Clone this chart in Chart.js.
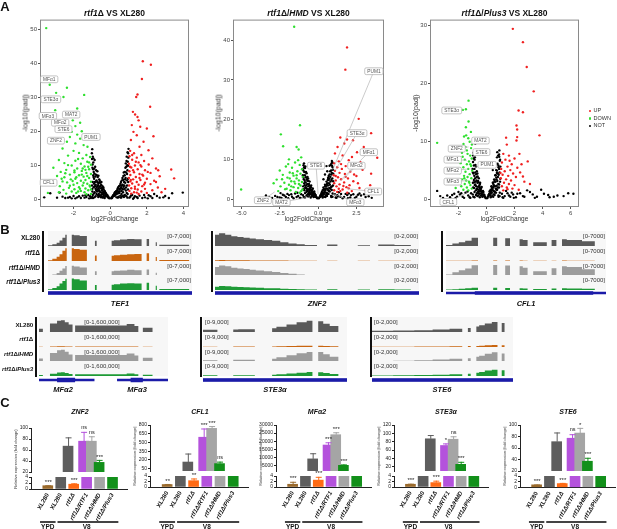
<!DOCTYPE html>
<html><head><meta charset="utf-8">
<script src="https://cdn.jsdelivr.net/npm/chart.js@4.4.1/dist/chart.umd.min.js"></script>
<style>
body{margin:0;background:#fff;}
#root{position:relative;width:617px;height:529px;overflow:hidden;font-family:"Liberation Sans",Arial,sans-serif;color:#111;}
#root canvas{position:absolute;}
.t{position:absolute;white-space:nowrap;line-height:1;}
.bar{position:absolute;background:#111;}
</style></head><body><div id="root"></div>
<script>
// ---------------- Panel A data (log2FoldChange, -log10(padj)) ----------------
const xTicksA1=[-2,0,2,4], yTicksA1=[0,10,20,30,40,50];
const xTicksA2=[-5,-2.5,0,2.5], yTicksA2=[0,10,20,30,40];
const xTicksA3=[-2,0,2,4,6], yTicksA3=[0,10,20,30];

const downA1=[[-3.49,50.4],[-3.3,33.7],[-2.36,32.8],[-2.95,31.3],[-2.55,30.1],[-1.42,30.7],[-1.8,26.7],[-3.0,26.2],[-2.27,25.2],[-1.78,24.7],[-2.04,23.2],[-1.64,22.5],[-1.9,21.5],[-1.55,20],[-2.1,19.8],[-1.8,19],[-2.2,18.3],[-1.64,17.8],[-2.36,16.9],[-1.9,16.4],[-1.45,15.9],[-2.6,14.9],[-1.24,15.4],
[-2.0,14.2],[-1.7,13.6],[-1.3,13.0],[-2.3,12.8],[-1.1,12.4],[-1.5,12.0],[-2.8,11.5],[-1.9,11.3],[-1.25,11.0],[-2.5,10.6],[-1.6,10.4],[-1.05,10.1],[-2.1,9.9],[-1.4,9.6],[-3.1,9.2],[-1.8,9.0],[-1.15,8.8],[-2.4,8.6],[-1.55,8.3],[-2.7,8.0],[-1.95,7.9],[-1.3,7.7],[-1.05,7.4],[-2.2,7.2],[-1.7,7.0],[-2.9,6.8],[-1.45,6.6],[-2.5,6.4],[-1.15,6.2],[-1.9,6.0],[-2.15,5.8],[-1.35,5.6],[-1.6,5.4],[-2.6,5.2],[-1.05,5.1],[-2.35,4.9],[-1.8,4.7],[-1.25,4.5],[-3.0,4.4],[-2.0,4.2],[-1.5,4.0],[-2.75,3.8],[-1.1,3.7],[-1.7,3.5],[-2.25,3.3],[-1.35,3.1],[-1.95,2.9],[-2.55,2.7],[-1.2,2.6],[-1.6,2.4],[-2.1,2.2],[-1.4,2.0],[-1.85,1.8],[-2.4,1.6],[-1.05,1.5],[-1.3,1.4],[-2.8,2.0],[-3.4,1.8],[-1.5,9.0],[-1.2,9.5],[-2.3,10.0],[-1.75,11.8],[-1.35,8.6],[-2.45,7.6],[-1.85,6.4],[-1.12,4.0],[-1.65,3.0],[-2.05,5.3],[-1.45,4.8],[-2.2,3.9],[-1.25,6.8],[-1.55,7.2],[-1.95,8.4],[-1.05,2.8],[-2.65,6.0],[-1.75,2.2],[-1.15,10.8],[-3.3,5.5]];
const upA1=[[1.78,40.6],[2.22,39.6],[1.73,35.4],[1.49,30.8],[1.42,30.1],[2.18,27.2],[1.24,25.7],[1.36,24.9],[1.49,24.2],[1.55,23.2],[1.18,21.8],[1.64,21.3],[2.0,20.8],[1.27,19.8],[1.45,18.8],[2.36,18.5],[1.13,17.4],[1.82,16.9],[1.6,15.4],[2.09,14.4],[1.09,14.2],[3.33,8.7],[3.49,6.1],[2.62,8.5],
[1.3,13.5],[1.7,13.0],[1.05,12.6],[1.45,12.2],[2.3,12.0],[1.2,11.6],[1.85,11.2],[1.55,10.8],[1.02,10.4],[2.1,10.2],[1.35,9.9],[1.7,9.6],[1.15,9.3],[2.5,9.0],[1.5,8.8],[1.9,8.5],[1.05,8.2],[1.3,7.9],[2.2,7.7],[1.6,7.4],[1.1,7.1],[1.8,6.9],[2.7,6.7],[1.4,6.5],[1.02,6.2],[2.0,6.0],[1.25,5.8],[1.65,5.6],[2.4,5.4],[1.1,5.2],[1.45,5.0],[1.9,4.8],[1.2,4.6],[2.2,4.4],[1.55,4.2],[1.03,4.0],[1.75,3.8],[1.35,3.6],[2.6,3.4],[1.15,3.2],[1.9,3.0],[1.5,2.8],[2.3,2.6],[1.05,2.4],[1.7,2.2],[1.3,2.0],[2.0,1.8],[1.15,1.6],[1.55,1.5],[2.8,2.0],[1.25,8.5],[1.4,11.0],[2.05,8.0],[1.12,5.6],[1.6,6.2],[1.35,3.0],[1.85,4.3],[1.08,9.5],[1.65,10.0],[2.5,5.0],[1.2,13.0],[1.75,7.2],[1.45,1.9],[3.0,3.0]];
const notA1=[[-0.98,14.7],[-0.95,12.5],[-0.92,10.8],[-0.97,9.2],[-0.9,8.0],[-0.85,11.5],[-0.82,9.5],[-0.78,7.2],[-0.88,6.0],[-0.95,5.0],[-0.75,5.5],[-0.7,8.2],[-0.68,6.5],[-0.65,4.5],[-0.6,5.8],[-0.58,3.6],[-0.55,4.8],[-0.5,3.2],[-0.48,5.0],[-0.45,2.6],[-0.42,3.8],[-0.4,2.0],[-0.36,2.9],[-0.33,1.6],[-0.3,2.4],[-0.27,1.2],[-0.24,1.8],[-0.2,0.9],[-0.16,1.2],[-0.12,0.5],[-0.08,0.4],[-0.05,0.2],[-0.9,3.5],[-0.8,3.0],[-0.85,2.0],[-0.72,2.2],[-0.62,1.5],[-0.55,1.1],[-0.95,1.2],[-0.8,0.8],[-0.65,0.6],[-0.5,0.5],[-0.4,0.4],[-0.3,0.3],[-0.98,0.6],[-0.7,3.8],[-0.88,4.5],[-0.75,1.5],[-0.6,2.6],[-0.45,1.4],[-0.35,1.0],[-0.92,7.0],[-0.83,5.0],[-0.97,3.0],
[-1.1,0.8],[-1.3,0.6],[-1.5,1.0],[-1.8,0.5],[-2.0,0.9],[-2.3,0.4],[-2.6,0.7],[-2.76,1.9],[-3.27,1.7],[-1.2,1.2],[-1.6,0.3],[-2.1,0.2],[-1.4,0.4],[-1.05,0.3],
[0.05,0.2],[0.08,0.5],[0.12,0.6],[0.16,1.1],[0.2,0.9],[0.24,1.7],[0.28,1.3],[0.32,2.3],[0.36,1.8],[0.4,3.0],[0.44,2.2],[0.48,3.8],[0.52,2.8],[0.56,4.5],[0.6,3.5],[0.64,5.5],[0.68,4.2],[0.72,6.8],[0.76,5.0],[0.8,8.0],[0.84,6.2],[0.88,9.5],[0.92,7.4],[0.96,11.0],[0.9,12.5],[0.85,10.5],[0.98,13.5],[0.78,3.0],[0.7,2.0],[0.62,1.5],[0.55,1.0],[0.45,0.7],[0.35,0.5],[0.85,2.5],[0.92,4.0],[0.95,1.5],[0.88,0.8],[0.75,0.6],[0.6,0.4],[0.82,4.8],[0.97,6.0],[0.66,3.0],[0.5,1.8],[0.94,8.5],
[1.1,0.7],[1.3,0.4],[1.6,1.0],[1.9,0.5],[2.2,0.8],[2.4,1.5],[2.7,0.4],[3.0,0.9],[3.38,1.7],[3.96,1.9],[1.2,1.2],[1.5,0.3],[2.05,0.2],[1.05,0.4],[2.55,0.9]];
const notA1b=[[-0.99,11.8],[-0.96,10.2],[-0.93,8.8],[-0.91,6.5],[-0.87,9.0],[-0.86,7.5],[-0.84,3.8],[-0.81,6.6],[-0.79,4.2],[-0.77,8.5],[-0.74,3.4],[-0.73,7.0],[-0.71,5.0],[-0.69,2.8],[-0.67,4.0],[-0.64,6.9],[-0.63,3.2],[-0.61,4.9],[-0.59,2.2],[-0.57,5.4],[-0.53,3.9],[-0.52,2.0],[-0.49,4.2],[-0.47,1.9],[-0.44,3.3],[-0.41,2.9],[-0.38,1.5],[-0.37,3.4],[-0.34,2.2],[-0.31,1.9],[-0.28,2.1],[-0.26,0.8],[-0.22,1.5],[-0.18,1.2],[-0.14,0.9],[-0.1,0.7],[-0.97,2.2],[-0.94,0.3],[-0.89,1.6],[-0.86,0.5],[-0.76,2.6],[-0.68,1.1],[-0.58,0.9],[-0.48,0.8],[-0.38,0.7],[-0.92,12.0],[-1.0,13.5],[-0.99,4.0],
[0.99,12.2],[0.97,9.8],[0.93,10.0],[0.91,5.5],[0.89,11.2],[0.87,7.8],[0.86,3.4],[0.83,9.2],[0.81,5.8],[0.79,7.0],[0.77,4.0],[0.74,7.8],[0.73,3.6],[0.71,5.6],[0.69,2.8],[0.67,6.2],[0.63,4.0],[0.61,2.4],[0.59,5.0],[0.57,3.2],[0.53,4.0],[0.51,2.2],[0.49,3.0],[0.46,1.8],[0.43,3.4],[0.41,1.6],[0.38,2.6],[0.34,1.5],[0.31,1.9],[0.27,1.0],[0.26,2.0],[0.22,1.4],[0.18,1.0],[0.14,0.8],[0.1,0.3],[0.97,2.8],[0.94,0.4],[0.9,1.8],[0.8,1.2],[0.72,1.0],[0.65,0.8],[0.55,0.5],[0.42,0.4],[1.0,14.8],[0.95,13.8],[0.98,5.0],
[-1.15,0.2],[-1.35,1.1],[-1.7,0.8],[-1.9,0.2],[-2.2,0.6],[-2.45,0.3],[-2.9,0.4],[-3.6,0.5],[1.15,1.1],[1.35,0.8],[1.45,0.6],[1.75,0.3],[2.1,1.1],[2.3,0.3],[2.9,0.5],[3.2,0.3],[1.25,0.1],[1.85,1.2]];

const downA2=[[-1.56,43.4],[-1.18,18.6],[-2.43,16.3],[-1.4,13.1],[-1.27,12.5],[-2.28,13.3],[-5.02,2.4],
[-1.1,10.5],[-1.9,10.0],[-1.5,9.2],[-1.2,8.6],[-2.1,8.2],[-1.7,7.9],[-1.05,7.5],[-2.5,7.2],[-1.35,7.0],[-1.85,6.7],[-1.15,6.4],[-2.3,6.1],[-1.6,5.9],[-1.0,5.6],[-2.0,5.4],[-1.4,5.2],[-2.7,4.9],[-1.25,4.7],[-1.75,4.5],[-1.05,4.3],[-2.2,4.1],[-1.5,3.9],[-1.9,3.6],[-1.15,3.4],[-2.45,3.2],[-1.6,3.0],[-1.3,2.8],[-2.05,2.6],[-1.02,2.4],[-1.8,2.2],[-2.6,2.0],[-1.45,1.8],[-1.2,1.6],[-2.9,4.0],[-1.65,6.5],[-1.95,8.8],[-1.3,9.8],[-2.35,5.0],[-1.55,4.4],[-1.1,2.0],[-1.75,3.2],[-2.15,2.5],[-1.4,6.0],[-1.85,5.2],[-1.25,3.8]];
const upA2=[[1.89,38.2],[1.78,32.6],[2.65,20.2],[3.46,16.6],[1.45,15.5],[1.89,15.0],[2.28,14.8],[1.71,14.0],[1.27,13.1],[2.98,13.1],[2.54,11.8],[3.86,10.4],[2.21,10.6],[2.76,9.3],[3.46,6.4],
[1.1,11.5],[1.6,11.0],[2.0,9.8],[1.35,9.5],[1.05,9.0],[2.4,8.6],[1.8,8.3],[1.25,8.0],[1.55,7.6],[2.9,7.4],[1.1,7.1],[2.1,6.9],[1.4,6.6],[1.75,6.3],[1.02,6.0],[2.5,5.8],[1.3,5.5],[1.95,5.2],[1.5,5.0],[1.15,4.7],[2.3,4.5],[1.7,4.2],[1.05,4.0],[1.4,3.7],[2.05,3.5],[1.2,3.2],[1.85,3.0],[2.7,2.8],[1.35,2.6],[1.6,2.4],[1.05,2.2],[2.2,2.0],[1.25,1.8],[1.9,1.6],[3.1,2.2],[1.5,8.8],[2.6,4.0],[1.15,5.8],[1.65,3.3],[2.35,6.2],[3.4,3.5],[1.45,2.0],[2.0,2.7],[1.8,5.6]];
const notA2=[[-0.95,8.5],[-0.9,6.8],[-0.85,7.8],[-0.8,5.5],[-0.75,6.5],[-0.7,4.6],[-0.65,5.2],[-0.6,3.8],[-0.55,4.4],[-0.5,3.0],[-0.45,3.4],[-0.4,2.3],[-0.35,2.7],[-0.3,1.7],[-0.25,1.9],[-0.2,1.1],[-0.15,1.0],[-0.1,0.5],[-0.05,0.2],[-0.9,4.0],[-0.8,3.0],[-0.7,2.2],[-0.6,1.6],[-0.5,1.2],[-0.4,0.8],[-0.3,0.5],[-0.95,2.5],[-0.85,1.5],[-0.75,0.9],[-0.65,0.6],[-0.97,5.5],[-0.88,3.5],[-0.55,2.0],[-0.98,1.0],[-1.0,7.5],
[-1.1,1.2],[-1.3,0.8],[-1.5,1.4],[-1.7,0.6],[-1.9,1.0],[-2.1,0.5],[-2.3,1.1],[-2.5,0.4],[-2.8,0.8],[-2.39,0.3],[-3.2,0.5],[-1.2,0.3],[-1.6,0.2],[-2.0,1.3],[-1.4,0.5],
[0.05,0.2],[0.1,0.5],[0.15,0.9],[0.2,1.2],[0.25,1.8],[0.3,2.2],[0.35,2.9],[0.4,2.5],[0.45,3.6],[0.5,3.2],[0.55,4.4],[0.6,4.0],[0.65,5.3],[0.7,4.8],[0.75,6.2],[0.8,5.6],[0.85,7.2],[0.9,6.6],[0.95,8.0],[0.9,9.6],[0.75,8.4],[0.6,7.0],[0.45,6.2],[0.35,5.0],[0.5,1.0],[0.6,1.5],[0.7,2.0],[0.8,2.6],[0.9,3.2],[0.95,1.4],[0.85,0.8],[0.4,0.6],[0.3,0.4],[0.98,4.5],[0.88,9.0],[0.55,8.3],
[1.1,1.2],[1.3,0.7],[1.5,1.3],[1.7,0.5],[1.9,1.0],[2.1,0.4],[2.3,1.2],[2.5,0.6],[2.8,0.9],[3.1,0.5],[3.5,0.3],[1.2,0.3],[1.6,0.2],[2.0,1.4],[2.7,1.4]];
const notA2b=[[-0.99,6.0],[-0.96,7.2],[-0.93,5.0],[-0.91,8.0],[-0.87,4.6],[-0.86,6.0],[-0.84,2.8],[-0.81,4.2],[-0.79,6.8],[-0.77,3.5],[-0.74,5.0],[-0.73,2.6],[-0.71,3.8],[-0.69,5.6],[-0.67,2.0],[-0.64,3.2],[-0.63,4.6],[-0.61,2.5],[-0.59,1.2],[-0.57,3.4],[-0.53,2.6],[-0.52,1.5],[-0.49,2.2],[-0.47,3.0],[-0.44,1.6],[-0.41,1.9],[-0.38,1.2],[-0.37,2.4],[-0.34,1.5],[-0.31,0.9],[-0.28,1.3],[-0.26,0.6],[-0.22,1.4],[-0.18,0.8],[-0.14,0.5],[-0.97,3.2],[-0.94,0.5],[-0.89,2.2],[-0.86,0.4],[-0.76,1.8],[-0.68,1.2],[-0.58,0.7],[-0.48,0.4],[-0.92,9.0],[-0.83,8.2],
[0.99,6.4],[0.97,7.4],[0.93,5.2],[0.91,8.4],[0.87,4.8],[0.86,6.2],[0.84,3.0],[0.81,4.4],[0.79,7.0],[0.77,3.6],[0.74,5.2],[0.73,2.8],[0.71,4.0],[0.69,5.8],[0.67,2.2],[0.64,3.4],[0.63,4.8],[0.61,2.6],[0.59,1.3],[0.57,3.6],[0.53,2.7],[0.52,1.6],[0.49,2.3],[0.47,3.2],[0.44,1.7],[0.41,2.0],[0.38,1.3],[0.37,2.5],[0.34,1.6],[0.31,1.0],[0.28,1.4],[0.26,0.7],[0.22,1.5],[0.18,0.9],[0.14,0.6],[0.97,3.4],[0.94,0.6],[0.89,2.3],[0.86,0.5],[0.76,1.9],[0.68,1.3],[0.58,0.8],[0.48,0.5],[0.93,9.3],[0.83,8.6],
[-1.15,0.3],[-1.35,1.6],[-1.75,1.2],[-1.95,0.2],[-2.2,0.9],[-2.45,1.5],[-2.65,0.5],[-3.0,0.3],[-3.4,0.9],[1.15,0.4],[1.35,1.7],[1.45,0.6],[1.8,1.3],[2.15,1.0],[2.4,0.3],[2.6,1.1],[3.0,1.2],[3.3,0.7],[1.25,1.0],[1.95,0.2]];

const downA3=[[-1.28,17.0],[-1.69,15.4],[-1.47,15.5],[-1.28,13.4],[-1.47,12.4],[-1.11,11.6],[-3.52,9.7],[-1.64,9.5],[-1.04,9.4],[-1.4,8.4],[-1.16,7.5],
[-1.3,10.5],[-1.6,10.8],[-1.2,9.9],[-1.5,9.0],[-1.1,8.8],[-1.75,8.0],[-1.35,7.8],[-1.05,7.0],[-1.55,6.8],[-1.25,6.5],[-1.85,6.2],[-1.4,6.0],[-1.1,5.7],[-1.65,5.5],[-1.3,5.2],[-1.02,4.9],[-1.5,4.7],[-1.9,4.5],[-1.2,4.3],[-1.6,4.0],[-1.35,3.8],[-1.08,3.6],[-1.75,3.4],[-1.45,3.2],[-1.25,3.0],[-2.0,2.8],[-1.55,2.6],[-1.15,2.4],[-1.8,2.2],[-1.4,2.0],[-1.05,1.8],[-1.65,1.6],[-2.2,1.9],[-1.3,1.5],[-1.45,11.0],[-1.7,7.3],[-1.15,6.0],[-1.58,3.6],[-1.22,2.8]];
const upA3=[[1.88,29.4],[2.6,27.1],[2.87,22.8],[3.37,18.6],[2.29,15.3],[2.6,15.0],[3.78,11.0],[1.4,10.6],[2.19,10.7],[2.14,10.1],[1.45,9.4],[2.14,12.7],[2.19,12.0],[2.94,6.5],
[1.2,7.8],[1.6,7.5],[2.0,7.0],[1.35,6.8],[2.5,6.0],[1.1,6.3],[1.8,6.0],[1.5,5.6],[2.2,5.4],[1.05,5.2],[1.7,5.0],[1.3,4.8],[2.4,4.6],[1.9,4.4],[1.15,4.2],[1.55,4.0],[2.1,3.8],[1.02,3.6],[1.4,3.4],[1.75,3.2],[2.7,3.0],[1.25,2.8],[1.6,2.6],[2.0,2.4],[1.1,2.2],[1.45,2.0],[1.85,1.8],[2.3,1.6],[1.2,1.5],[3.1,2.6],[1.65,6.6],[2.35,7.8],[1.0,4.5],[2.6,3.9],[1.5,1.7]];
const notA3=[[-0.95,7.5],[-0.9,5.8],[-0.85,6.8],[-0.8,4.6],[-0.75,5.6],[-0.7,3.8],[-0.65,4.4],[-0.6,3.1],[-0.55,3.6],[-0.5,2.4],[-0.45,2.8],[-0.4,1.8],[-0.35,2.1],[-0.3,1.3],[-0.25,1.4],[-0.2,0.8],[-0.15,0.7],[-0.1,0.4],[-0.05,0.15],[-0.9,3.3],[-0.8,2.5],[-0.7,1.8],[-0.6,1.3],[-0.5,0.9],[-0.4,0.6],[-0.3,0.4],[-0.95,2.0],[-0.85,1.2],[-0.75,0.7],[-0.65,0.5],[-0.97,4.6],[-0.88,2.9],[-0.55,1.6],[-0.98,0.8],[-0.8,9.6],
[-1.1,1.0],[-1.3,0.6],[-1.5,1.1],[-1.7,0.4],[-1.9,0.8],[-2.1,0.4],[-2.3,0.9],[-2.6,0.3],[-3.52,1.4],[-1.2,0.3],[-1.6,0.2],[-2.0,1.2],[-2.8,0.6],[-3.1,0.2],
[0.05,0.15],[0.1,0.4],[0.15,0.7],[0.2,0.9],[0.25,1.4],[0.3,1.6],[0.35,2.2],[0.4,1.9],[0.45,2.8],[0.5,2.5],[0.55,3.4],[0.6,3.0],[0.65,4.1],[0.7,3.7],[0.75,4.9],[0.8,4.4],[0.85,5.8],[0.9,5.2],[0.95,6.6],[0.9,7.7],[0.75,7.2],[0.6,6.0],[0.45,5.0],[0.5,0.8],[0.6,1.2],[0.7,1.6],[0.8,2.0],[0.9,2.5],[0.95,1.1],[0.85,0.6],[0.4,0.5],[0.3,0.3],[0.98,3.5],[0.77,8.1],
[1.1,0.9],[1.3,0.5],[1.5,1.0],[1.7,0.4],[1.9,0.8],[2.1,0.3],[2.4,1.0],[2.6,0.5],[2.9,1.5],[3.3,0.8],[3.9,1.6],[4.1,0.9],[5.06,0.6],[5.83,1.0],[6.2,0.9],[3.6,0.4],[4.5,0.3],[1.2,0.2]];
const notA3b=[[-0.99,5.2],[-0.96,6.4],[-0.93,4.4],[-0.91,7.0],[-0.87,4.0],[-0.86,5.2],[-0.84,2.4],[-0.81,3.6],[-0.79,5.9],[-0.77,3.0],[-0.74,4.3],[-0.73,2.2],[-0.71,3.2],[-0.69,4.8],[-0.67,1.7],[-0.64,2.8],[-0.63,3.9],[-0.61,2.1],[-0.59,1.0],[-0.57,2.9],[-0.53,2.2],[-0.52,1.3],[-0.49,1.9],[-0.47,2.6],[-0.44,1.4],[-0.41,1.6],[-0.38,1.0],[-0.37,2.0],[-0.34,1.3],[-0.31,0.8],[-0.28,1.1],[-0.26,0.5],[-0.22,1.2],[-0.18,0.7],[-0.14,0.4],[-0.97,2.8],[-0.94,0.4],[-0.89,1.9],[-0.86,0.3],[-0.76,1.5],[-0.68,1.0],[-0.58,0.6],[-0.48,0.3],[-0.92,8.0],[-0.83,7.2],
[0.99,5.6],[0.97,6.8],[0.93,4.6],[0.91,7.3],[0.87,4.2],[0.86,5.5],[0.84,2.6],[0.81,3.8],[0.79,6.1],[0.77,3.1],[0.74,4.5],[0.73,2.3],[0.71,3.4],[0.69,5.0],[0.67,1.8],[0.64,3.0],[0.63,4.1],[0.61,2.2],[0.59,1.1],[0.57,3.1],[0.53,2.3],[0.52,1.4],[0.49,2.0],[0.47,2.8],[0.44,1.5],[0.41,1.7],[0.38,1.1],[0.37,2.1],[0.34,1.4],[0.31,0.9],[0.28,1.2],[0.26,0.6],[0.22,1.3],[0.18,0.8],[0.14,0.5],[0.97,3.0],[0.94,0.5],[0.89,2.0],[0.86,0.4],[0.76,1.6],[0.68,1.1],[0.58,0.7],[0.48,0.4],[0.92,8.4],[0.83,7.5],
[-1.15,0.2],[-1.35,1.3],[-1.8,1.0],[-2.2,0.2],[-2.45,0.7],[-3.3,0.5],[1.15,0.3],[1.4,1.4],[1.6,0.6],[1.8,1.1],[2.2,0.9],[2.7,0.4],[3.1,1.2],[3.45,0.2],[4.4,0.7],[4.8,0.4],[5.5,0.5],[1.95,0.2]];

const tagsA1=[{t:'MFα1',x:-3.33,y:35.3},{t:'STE3α',x:-3.24,y:29.4},{t:'MFα3',x:-3.4,y:24.5},{t:'MAT2',x:-2.13,y:24.9},{t:'MFα2',x:-2.73,y:22.5},{t:'STE6',x:-2.55,y:20.6},{t:'ZNF2',x:-2.96,y:17.2},{t:'PUM1',x:-1.05,y:18.3},{t:'CFL1',x:-3.36,y:4.8}];
const tagsA2=[{t:'PUM1',x:3.64,y:32.2,tx:0.96,ty:7.4},{t:'STE3α',x:2.54,y:16.6,tx:1.12,ty:7.2},{t:'MFα1',x:3.31,y:11.8,tx:1.45,ty:4.7},{t:'MFα2',x:2.5,y:8.4,tx:1.67,ty:5.1},{t:'STE6',x:-0.13,y:8.4,tx:0.0,ty:1.3},{t:'CFL1',x:3.6,y:1.9,tx:1.89,ty:2.6},{t:'MFα3',x:2.43,y:-0.8,tx:1.0,ty:1.3},{t:'ZNF2',x:-3.6,y:-0.3,tx:-2.83,ty:1.8},{t:'MAT2',x:-2.39,y:-0.8,tx:-0.53,ty:0.5}];
const tagsA3=[{t:'STE3α',x:-2.48,y:15.3,tx:-1.69,ty:15.4},{t:'MAT2',x:-0.43,y:10.1,tx:-1.04,ty:10},{t:'ZNF2',x:-2.12,y:8.7,tx:-1.28,ty:9.0},{t:'STE6',x:-0.36,y:8.1,tx:-1.04,ty:7.2},{t:'MFα1',x:-2.41,y:6.8,tx:-1.4,ty:6.7},{t:'PUM1',x:0.05,y:5.9,tx:-0.8,ty:5.5},{t:'MFα2',x:-2.41,y:4.9,tx:-1.28,ty:5.2},{t:'MFα3',x:-2.41,y:3.0,tx:-1.28,ty:3.2},{t:'CFL1',x:-2.72,y:-0.5,tx:-1.52,ty:0.9}];

// ---------------- Panel B data (coverage; breakpoints along locus 0-100) ----------------
const tef1Pos=[0,3,6,8,10,12,13,16.5,18,22,27,32.6,33.8,44.2,45.8,50,55,60,65,68.5,70.2,74.8,75.6,77.3,98,99,100];
const tef1XL =[0,300,800,1500,2600,3800,5200,0,5300,5000,4700,0,2400,0,2400,2700,3000,3300,3100,0,3300,0,1700,0,600,0,0];
const tef1Rtf=[0,400,1000,2000,3200,4800,6000,0,6000,5600,5200,0,2600,0,2400,2700,2900,3200,3300,0,3600,0,1900,0,500,0,0];
const tef1HMD=[0,300,700,1400,2400,3500,4700,0,4800,4400,4000,0,2200,0,2200,2400,2600,2900,2700,0,3000,0,1500,0,500,0,0];
const tef1P3 =[0,300,900,1800,3000,4200,5200,0,5400,5000,4400,0,2300,0,2400,2700,3000,3200,3000,0,3400,0,2000,0,500,0,0];
const znf2Pos=[0,2,5,8,11,14,17,20,24,28,32,36,40,44,50,55,60,70,76,80,88,96,100];
const znf2XL =[500,1500,1700,1500,1300,1200,1100,1000,900,800,700,500,350,250,150,0,200,0,100,0,200,150,0];
const znf2Rtf=[0,100,120,110,100,90,90,80,80,70,60,60,50,40,30,0,40,0,20,0,40,30,0];
const znf2HMD=[400,1200,1400,1300,1100,1000,950,850,750,650,550,400,300,200,120,0,150,0,80,0,150,120,0];
const znf2P3 =[100,450,550,500,450,400,380,330,300,250,220,180,150,100,80,0,100,0,60,0,100,80,0];
const cfl1Pos=[0,4,8,12,16,20,29.5,32,37,40,46,48,51,54.5,63,66,69,72.5,75.5,85,93,100];
const cfl1XL =[100,500,1200,1800,2400,3800,0,3800,0,3600,0,3200,2800,0,1700,0,2800,0,3100,2800,2200,0];
const cfl1Rtf=[0,80,100,120,150,200,0,200,0,200,0,180,160,0,120,0,150,0,180,160,120,0];
const cfl1HMD=[150,700,1700,2700,3500,5000,0,5100,0,4900,0,4500,3800,0,2200,0,3600,0,4500,4200,3200,0];
const cfl1P3 =[50,200,400,600,800,1000,0,1000,0,950,0,850,750,0,500,0,700,0,800,750,600,0];
const mfaPos=[0,3,8.5,14,17,20,23,26,28,68,71,74,77,80.5,88,92,100];
const mfaXL =[0,350000,0,900000,1200000,1250000,1050000,800000,0,700000,850000,850000,650000,0,450000,0,0];
const mfaRtf=[0,20000,0,60000,70000,70000,60000,50000,0,50000,60000,60000,50000,0,20000,0,0];
const mfaHMD=[0,380000,0,950000,1250000,1300000,1100000,800000,0,750000,900000,900000,700000,0,450000,0,0];
const mfaP3 =[0,100000,0,250000,380000,400000,330000,220000,0,200000,280000,280000,200000,0,130000,0,0];
const ste3Pos=[0,10,21,24.5,36,48,51,58,65,72,76,80,83.5,88,94,100];
const ste3XL =[1000,1300,0,1500,1600,0,2200,3200,4500,5800,6800,0,6500,5000,3600,0];
const ste3Rtf=[150,200,0,250,250,0,350,450,600,700,800,0,700,600,400,0];
const ste3HMD=[800,1100,0,1300,1400,0,2000,2900,4000,5200,6000,0,6000,4600,3200,0];
const ste3P3 =[300,400,0,500,500,0,800,1100,1500,2000,2400,0,2300,1800,1200,0];
const ste6Pos=[0,15,30,43,55,64,68,70,74,76,80,85,89,92,94,100];
const ste6XL =[150,180,200,250,350,450,0,550,0,750,900,1150,1350,0,1200,0];
const ste6Rtf=[30,40,50,60,80,100,0,120,0,150,180,230,270,0,240,0];
const ste6HMD=[120,150,180,220,320,420,0,500,0,700,850,1100,1300,0,1150,0];
const ste6P3 =[60,80,100,130,180,250,0,300,0,450,550,750,850,0,780,0];
const tef1Thin=[[0,100]], tef1Thick=[[0,100]];
const znf2Thin=[[0,100]], znf2Thick=[[0,100]];
const cfl1Thin=[[0,100]], cfl1Thick=[[18,92]];
const mfaThin=[[0,43],[60.5,100]], mfaThick=[[14,28],[71,80.5]];
const ste3Thin=[[0,100]], ste3Thick=[[0,100]];
const ste6Thin=[[0,100]], ste6Thick=[[0,100]];
const trackNames=['XL280','<i>rtf1</i>Δ','<i>rtf1</i>Δ/<i>HMD</i>','<i>rtf1</i>Δ/<i>Plus3</i>'];

// ---------------- Panel C data (relative expression, fold change) ----------------
const qLabels=['XL280','XL280','rtf1Δ','rtf1Δ/RTF1','rtf1Δ/HMD','rtf1Δ/Plus3'];
const lowTicks=[0,2,4];
const znf2Mean=[1.1,67,1.6,76,76,37.5], znf2Err=[0.15,16,0.3,17,9,4.5], znf2Sig=['***','','***','ns','ns','***'], znf2Ticks=[20,40,60,80,100];
const cfl1Mean=[0.9,164,2.3,590,742,137], cfl1Err=[0.2,146,0.8,150,40,34], cfl1Sig=['**','','**','***','***','ns'], cfl1Ticks=[50,200,350,500,650,800];
const mfa2Mean=[1.0,9000,2.5,17600,24000,5000], mfa2Err=[0.9,3500,1.2,1700,1500,600], mfa2Sig=['***','','***','***','***','***'], mfa2Ticks=[5000,10000,15000,20000,25000,30000];
const ste3Mean=[1.0,87,1.6,71,86,26], ste3Err=[0.2,9,0.7,5,7,6], ste3Sig=['***','','***','*','ns','***'], ste3Ticks=[20,40,60,80,100,120];
const ste6Mean=[0.9,71,1.4,77,86,37], ste6Err=[0.15,16,0.2,7,9,6], ste6Sig=['***','','***','ns','*','***'], ste6Ticks=[20,40,60,80,100];

// ---------------- drawing ----------------
const FONT='"Liberation Sans", Arial, Helvetica, sans-serif';
Chart.defaults.font.family=FONT;
const root=document.getElementById('root');
const base={responsive:false,animation:false,devicePixelRatio:1,events:[],plugins:{legend:{display:false},tooltip:{enabled:false}}};
function canvasAt(l,t,w,h,bg){const c=document.createElement('canvas');c.width=Math.round(w);c.height=Math.round(h);c.style.left=l+'px';c.style.top=t+'px';c.style.width=Math.round(w)+'px';c.style.height=Math.round(h)+'px';if(bg)c.style.background=bg;root.appendChild(c);return c;}
function txt(html,x,y,o={}){const d=document.createElement('div');d.className='t';d.innerHTML=html;d.style.left=x+'px';d.style.top=y+'px';d.style.fontSize=(o.size||7)+'px';if(o.bold)d.style.fontWeight='bold';if(o.italic)d.style.fontStyle='italic';if(o.ls)d.style.letterSpacing=o.ls+'px';d.style.color=o.color||'#111';const ax=o.align==='r'?'-100%':o.align==='l'?'0':'-50%';d.style.transform='translate('+ax+',-50%)'+(o.rot?' rotate('+o.rot+'deg)':'');root.appendChild(d);return d;}
function box(l,t,w,h,c){const d=document.createElement('div');d.className='bar';d.style.left=l+'px';d.style.top=t+'px';d.style.width=w+'px';d.style.height=h+'px';if(c)d.style.background=c;root.appendChild(d);return d;}

// ----- Panel A -----
const framePlugin={id:'frame',beforeDatasetsDraw(ch){const a=ch.chartArea,c=ch.ctx;c.save();c.strokeStyle='#8a8a8a';c.lineWidth=1;c.strokeRect(a.left+0.5,a.top+0.5,a.right-a.left-1,a.bottom-a.top-1);c.restore();}};
function tagPlugin(tags){return{id:'tags',afterDatasetsDraw(ch){const c=ch.ctx,xs=ch.scales.x,ys=ch.scales.y;c.save();
 c.strokeStyle='#b5b5b5';c.lineWidth=0.7;
 tags.forEach(t=>{if(t.tx==null)return;c.beginPath();c.moveTo(xs.getPixelForValue(t.x),ys.getPixelForValue(t.y));c.lineTo(xs.getPixelForValue(t.tx),ys.getPixelForValue(t.ty));c.stroke();});
 c.font='4.8px '+FONT;c.textAlign='center';c.textBaseline='middle';
 tags.forEach(t=>{const px=xs.getPixelForValue(t.x),py=ys.getPixelForValue(t.y);const w=c.measureText(t.t).width+5,h=6.8;
  c.beginPath();c.roundRect(px-w/2,py-h/2,w,h,1.5);c.fillStyle='#fff';c.fill();c.strokeStyle='#aaa';c.lineWidth=0.7;c.stroke();c.fillStyle='#555';c.fillText(t.t,px,py+0.3);});
 c.restore();}};}
const toPts=a=>a.map(p=>({x:p[0],y:p[1]}));
function volcano(o){
 const yW=24,xH=12,padT=4;
 const cl=o.L-yW,ct=o.T-padT,w=o.R-cl+4,h=o.B+xH-ct;
 const cv=canvasAt(cl,ct,w,h);
 const ax=(min,max,ticks,fmt,isX)=>({type:'linear',min,max,
   afterBuildTicks:s=>{s.ticks=ticks.map(v=>({value:v}));},
   afterFit:s=>{if(isX)s.height=xH;else s.width=yW;},
   grid:{display:true,drawOnChartArea:false,drawTicks:true,tickLength:2,tickColor:'#555'},
   border:{display:false},
   ticks:{font:{size:6,family:FONT},color:'#444',padding:1,maxRotation:0,autoSkip:false,callback:v=>fmt(v)}});
 new Chart(cv,{type:'scatter',data:{datasets:[
   {data:toPts(o.up),backgroundColor:'#f02020',pointRadius:1.2,pointBorderWidth:0},
   {data:toPts(o.down),backgroundColor:'#2fe02f',pointRadius:1.2,pointBorderWidth:0},
   {data:toPts(o.not),backgroundColor:'#000',pointRadius:1.2,pointBorderWidth:0}]},
  options:{...base,layout:{padding:{top:padT,right:4,left:0,bottom:0}},
   scales:{x:ax(o.xr[0],o.xr[1],o.xt,o.xf,true),y:ax(o.yr[0],o.yr[1],o.yt,v=>String(v),false)}},
  plugins:[framePlugin,tagPlugin(o.tags)]});
 txt(o.title,(o.L+o.R)/2,13,{size:8.5,bold:true});
 txt('log2FoldChange',(o.L+o.R)/2,218.5,{size:6.5,color:'#333'});
 txt('-log10(padj)',o.L-15,113,{size:7,color:'#333',rot:-90});
}
volcano({L:40,T:19,R:189,B:207,xr:[-3.83,4.3],yr:[-2.35,52.9],xt:xTicksA1,yt:yTicksA1,xf:v=>String(v),up:upA1,down:downA1,not:notA1.concat(notA1b),tags:tagsA1,title:'<i>rtf1</i>Δ VS XL280'});
volcano({L:233,T:19,R:384,B:207,xr:[-5.55,4.3],yr:[-2.0,45.2],xt:xTicksA2,yt:yTicksA2,xf:v=>v.toFixed(1),up:upA2,down:downA2,not:notA2.concat(notA2b),tags:tagsA2,title:'<i>rtf1</i>Δ/<i>HMD</i> VS XL280'});
volcano({L:430,T:19,R:579,B:207,xr:[-4.03,6.6],yr:[-1.38,31.0],xt:xTicksA3,yt:yTicksA3,xf:v=>String(v),up:upA3,down:downA3,not:notA3.concat(notA3b),tags:tagsA3,title:'<i>rtf1</i>Δ/<i>Plus3</i> VS XL280'});
// legend
[['UP','#f02020',111],['DOWN','#2fe02f',118.5],['NOT','#000',126]].forEach(([n,c,y])=>{box(588.5,y-1.2,2.4,2.4,c).style.borderRadius='50%';txt(n,593.5,y,{size:5.5,align:'l',color:'#333'});});

// ----- Panel B -----
const trackColors=['#5a5a5a','#c9650f','#9c9c9c','#1e9a36'];
function track(l,t,w,h,pos,vals,max,color){
 const c=canvasAt(l,t,w,h,'#f7f7f7');
 new Chart(c,{type:'line',data:{datasets:[{data:pos.map((p,i)=>({x:p,y:vals[i]})),stepped:'after',fill:'origin',backgroundColor:color,borderColor:'rgba(0,0,0,0)',borderWidth:0,pointRadius:0}]},
  options:{...base,layout:{padding:0},scales:{x:{type:'linear',display:false,min:0,max:100},y:{display:false,min:0,max:max}}}});
}
function geneModel(l,t,w,h,thin,thick,thickW){
 const seg=a=>a.flatMap(([s,e])=>[{x:s,y:0},{x:e,y:0},{x:e,y:null}]);
 const c=canvasAt(l,t,w,h);
 new Chart(c,{type:'line',data:{datasets:[
  {data:seg(thick),borderColor:'#1b1ba8',borderWidth:thickW,pointRadius:0,spanGaps:false,borderCapStyle:'butt'},
  {data:seg(thin),borderColor:'#1b1ba8',borderWidth:2.4,pointRadius:0,spanGaps:false,borderCapStyle:'butt'}]},
  options:{...base,layout:{padding:0},scales:{x:{type:'linear',display:false,min:0,max:100},y:{display:false,min:-1,max:1}}}});
}
function locus(o){
 const th=14.5;
 o.sets.forEach((v,i)=>{track(o.l,o.bases[i]-th,o.r-o.l,th,o.pos,v,o.max,trackColors[i]);});
 box(o.bar,o.bases[0]-th,2,o.bases[3]-o.bases[0]+th+2);
 o.bases.forEach(b=>{if(o.lab==='r')txt(o.scale,o.r-1,b-th+5,{size:6,align:'r',color:'#333'});else if(o.lab==='l')txt(o.scale,o.l+2,b-th+5,{size:6,align:'l',color:'#333'});else txt(o.scale,o.lab,b-th+5,{size:6,color:'#333'});});
 geneModel(o.l,o.gy-4,o.r-o.l,8,o.thin,o.thick,o.tw);
}
const row1=[245,260,275,289.5], row2=[331.7,346.3,361,375.5];
locus({l:48,r:192,bar:42,bases:row1,pos:tef1Pos,sets:[tef1XL,tef1Rtf,tef1HMD,tef1P3],max:7000,scale:'[0-7,000]',lab:'r',gy:292.7,thin:tef1Thin,thick:tef1Thick,tw:3.6});
locus({l:215,r:419,bar:211,bases:row1,pos:znf2Pos,sets:[znf2XL,znf2Rtf,znf2HMD,znf2P3],max:2000,scale:'[0-2,000]',lab:'r',gy:292.7,thin:znf2Thin,thick:znf2Thick,tw:3.6});
locus({l:446,r:606,bar:441,bases:row1,pos:cfl1Pos,sets:[cfl1XL,cfl1Rtf,cfl1HMD,cfl1P3],max:7000,scale:'[0-7000]',lab:'r',gy:292.7,thin:cfl1Thin,thick:cfl1Thick,tw:3.6});
locus({l:39,r:168,bar:35,bases:row2,pos:mfaPos,sets:[mfaXL,mfaRtf,mfaHMD,mfaP3],max:1600000,scale:'[0-1,600,000]',lab:102,gy:379.5,thin:mfaThin,thick:mfaThick,tw:4.6});
locus({l:203,r:347,bar:200,bases:row2,pos:ste3Pos,sets:[ste3XL,ste3Rtf,ste3HMD,ste3P3],max:9000,scale:'[0-9,000]',lab:'l',gy:379.5,thin:ste3Thin,thick:ste3Thick,tw:3.6});
locus({l:372,r:513,bar:370,bases:row2,pos:ste6Pos,sets:[ste6XL,ste6Rtf,ste6HMD,ste6P3],max:2000,scale:'[0-2,000]',lab:'l',gy:379.5,thin:ste6Thin,thick:ste6Thick,tw:3.6});
row1.forEach((b,i)=>txt(trackNames[i],40,b-7.5,{size:6.6,bold:true,align:'r',ls:-0.1}));
row2.forEach((b,i)=>txt(trackNames[i],33,b-7,{size:6.2,bold:true,align:'r',ls:-0.15}));
[['TEF1',120,303.5],['ZNF2',317,303.5],['CFL1',526,303.5],['MFα2',63,390],['MFα3',137,390],['STE3α',275,390],['STE6',442,390]].forEach(([n,x,y])=>txt(n,x,y,{size:7.5,bold:true,italic:true}));

// ----- Panel C -----
const qColors=['#9a6a2c','#5e5e5e','#ff6a14','#b452dc','#a5a5a5','#12901a'];
function errPlugin(o,part){return{id:'err',afterDatasetsDraw(ch){const c=ch.ctx,xs=ch.scales.x,ys=ch.scales.y;c.save();
 o.mean.forEach((v,i)=>{if(part==='up'&&v<=o.uMin)return;if(part==='low'&&v>4)return;
  const x=xs.getPixelForValue(i),y0=ys.getPixelForValue(v),y1=ys.getPixelForValue(v+o.err[i]);
  c.strokeStyle=qColors[i];c.lineWidth=1;c.beginPath();c.moveTo(x+0.5,y0);c.lineTo(x+0.5,y1);c.moveTo(x-2.5,y1+0.5);c.lineTo(x+3.5,y1+0.5);c.stroke();
  if(o.sig[i]){c.fillStyle='#222';c.font=(o.sig[i]==='ns'?'5.5px ':'6px ')+FONT;c.textAlign='center';c.textBaseline='bottom';c.fillText(o.sig[i],x+0.5,y1-(o.sig[i]==='ns'?1.5:0));}
 });c.restore();}};}
function groupPlugin(){return{id:'grp',afterDraw(ch){const c=ch.ctx,xs=ch.scales.x,H=ch.height;c.save();c.strokeStyle='#444';c.lineWidth=2;
 c.beginPath();c.moveTo(xs.getPixelForValue(-0.6),H-7);c.lineTo(xs.getPixelForValue(0.6),H-7);c.moveTo(xs.getPixelForValue(0.75),H-7);c.lineTo(xs.getPixelForValue(5.45),H-7);c.stroke();
 c.fillStyle='#111';c.font='bold 6.5px '+FONT;c.textAlign='center';c.textBaseline='middle';c.fillText('YPD',xs.getPixelForValue(0),H-2);c.fillText('V8',xs.getPixelForValue(3),H-2);c.restore();}};}
function qpcr(o){
 const xmin=-0.68,xmax=5.5,yW=20,areaW=(xmax-xmin)*o.s,cl=o.ax-yW,cw=yW+areaW+6,bw=Math.round(o.s*0.66);
 const ds=()=>[{data:o.mean.map((v,i)=>({x:i,y:v})),backgroundColor:qColors,barThickness:bw}];
 const yAxis=(min,max,ticks)=>({min,max,afterBuildTicks:s=>{s.ticks=ticks.map(v=>({value:v}));},afterFit:s=>{s.width=yW;},
  grid:{display:true,drawOnChartArea:false,drawTicks:true,tickLength:2,tickColor:'#222'},border:{display:true,color:'#222',width:1},
  ticks:{font:{size:5,family:FONT},color:'#222',padding:1,autoSkip:false,callback:v=>String(v)}});
 const ut=o.uT-18;
 new Chart(canvasAt(cl,ut,cw,o.uB-ut+4),{type:'bar',data:{datasets:ds()},options:{...base,layout:{padding:{top:18,bottom:4,left:0,right:6}},
  scales:{x:{type:'linear',min:xmin,max:xmax,display:false},y:yAxis(o.uMin,o.uMax,o.uTicks)}},plugins:[errPlugin(o,'up')]});
 const lt=o.lT-5;
 new Chart(canvasAt(cl,lt,cw,529-lt),{type:'bar',data:{datasets:ds()},options:{...base,layout:{padding:{top:5,bottom:0,left:0,right:6}},
  scales:{x:{type:'linear',min:xmin,max:xmax,afterBuildTicks:s=>{s.ticks=[0,1,2,3,4,5].map(v=>({value:v}));},afterFit:s=>{s.height=529-o.lB;},
    grid:{display:true,drawOnChartArea:false,drawTicks:false},border:{display:true,color:'#222',width:1},
    ticks:{autoSkip:false,minRotation:60,maxRotation:60,padding:3,color:'#111',font:c=>({size:6,weight:'bold',style:c.index>=2?'italic':'normal',family:FONT}),callback:(v,i)=>qLabels[i]}},
   y:yAxis(0,4,lowTicks)}},plugins:[errPlugin(o,'low'),groupPlugin()]});
 txt(o.title,o.tx,411,{size:7,bold:true,italic:true});
 txt('Relative expression (fold change)',o.ax-15,(o.uT+o.lB)/2,{size:4,color:'#333',rot:-90});
}
qpcr({title:'ZNF2',tx:80,ax:31,s:15.5,uT:428,uB:472,lT:477,lB:489,uMin:20,uMax:100,uTicks:znf2Ticks,mean:znf2Mean,err:znf2Err,sig:znf2Sig});
qpcr({title:'CFL1',tx:200,ax:150,s:15.8,uT:425,uB:470.5,lT:476,lB:487,uMin:10,uMax:800,uTicks:cfl1Ticks,mean:cfl1Mean,err:cfl1Err,sig:cfl1Sig});
qpcr({title:'MFα2',tx:317,ax:276,s:15.3,uT:425,uB:471,lT:476,lB:487,uMin:1500,uMax:30000,uTicks:mfa2Ticks,mean:mfa2Mean,err:mfa2Err,sig:mfa2Sig});
qpcr({title:'STE3α',tx:446,ax:394,s:15.2,uT:425,uB:471,lT:476,lB:487,uMin:10,uMax:120,uTicks:ste3Ticks,mean:ste3Mean,err:ste3Err,sig:ste3Sig});
qpcr({title:'STE6',tx:568,ax:520,s:15.3,uT:425,uB:471,lT:476,lB:487.5,uMin:20,uMax:100,uTicks:ste6Ticks,mean:ste6Mean,err:ste6Err,sig:ste6Sig});

// panel letters
txt('A',5,6,{size:13,bold:true});
txt('B',5,228.5,{size:13,bold:true});
txt('C',5,402,{size:13,bold:true});
</script></body></html>
